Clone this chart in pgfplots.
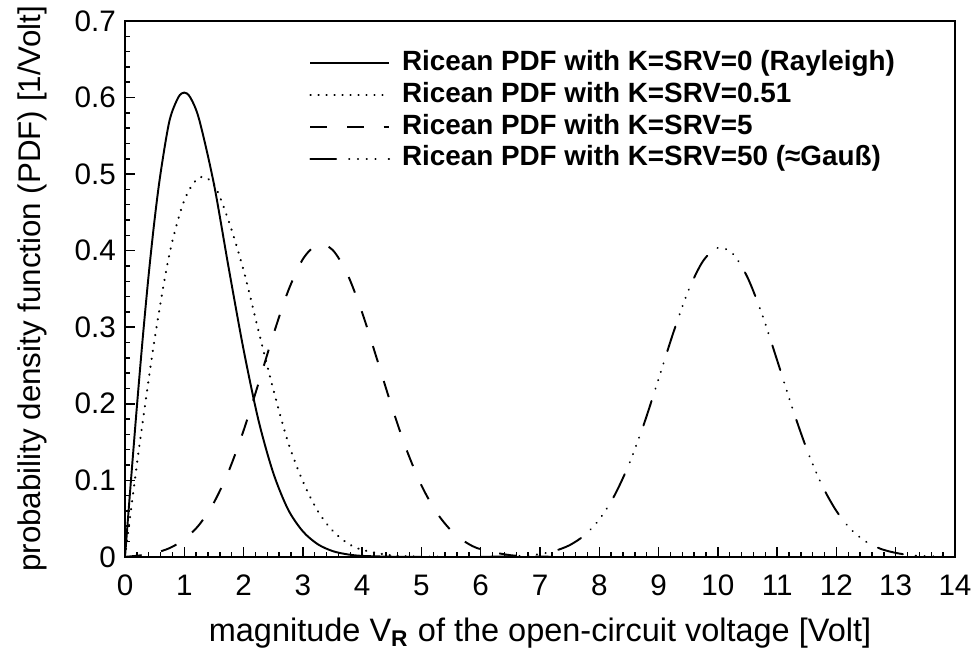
\documentclass[border=0pt]{standalone}
\usepackage{fontspec}
\setmainfont{Liberation Sans}
\usepackage{pgfplots}
\pgfplotsset{compat=1.18}
\begin{document}
\begin{tikzpicture}
\begin{axis}[
  name=ax,
  scale only axis,
  width=322pt, height=207.9pt,
  xmin=0, xmax=14, ymin=0, ymax=0.7,
  xtick={0,1,...,14},
  ytick={0,0.1,0.2,0.3,0.4,0.5,0.6,0.7},
  yticklabels={0,0.1,0.2,0.3,0.4,0.5,0.6,0.7},
  minor x tick num=4, minor y tick num=4,
  tick align=inside,
  xtick pos=bottom, ytick pos=left,
  major tick length=4pt, minor tick length=2pt,
  every tick/.style={black, line width=0.6pt},
  axis line style={line width=0.8pt},
  /pgf/number format/assume math mode=true,
  ticklabel style={font=\fontsize{11.5}{13}\selectfont},
  xticklabel style={yshift=-3.5pt},
  xlabel={magnitude V\textsubscript{\textbf{R}} of the open-circuit voltage [Volt]},
  ylabel={probability density function (PDF) [1/Volt]},
  xlabel style={font=\fontsize{12.6}{15}\selectfont},
  ylabel style={font=\fontsize{12.15}{14}\selectfont},
  ylabel shift=4pt,
  xlabel shift=1.5pt,
  legend style={draw=none, fill=none, at={(0.2215,0.9465)}, anchor=north west,
    inner xsep=0pt, inner ysep=0pt,
    nodes={inner sep=0pt, text height=8pt, text depth=2.3pt},
    /tikz/every odd column/.append style={column sep=4.6pt},
    font=\bfseries\fontsize{10.8}{12.3}\selectfont, row sep=2pt},
  legend cell align=left,
  legend image code/.code={\draw[#1] (0pt,0pt) -- (30.5pt,0pt);},
  every axis plot/.append style={line width=0.75pt, black},
]
\addplot[smooth, solid] coordinates {
(0,0) (0.05,0.0499) (0.1,0.0995) (0.2,0.1960) (0.3,0.2866) (0.4,0.3692) (0.5,0.4412) (0.6,0.5012) (0.75,0.5697) (0.9,0.6003) (1,0.6065) (1.1,0.6003) (1.25,0.5716) (1.5,0.4870) (1.75,0.3769) (2,0.2707) (2.25,0.1789) (2.5,0.1098) (2.75,0.0620) (3,0.0333) (3.25,0.0166) (3.5,0.0076) (3.75,0.0033) (4,0.0013) (4.5,0.0002) (5,0)};
\addlegendentry{Ricean PDF with K=SRV=0 (Rayleigh)}
\addplot[smooth, line cap=round, line width=0.85pt, dash pattern=on 0.1pt off 3pt] coordinates {
(0,0) (0.1,0.0607) (0.25,0.1493) (0.5,0.2846) (0.75,0.3958) (1,0.4657) (1.25,0.4956) (1.5,0.4864) (1.75,0.4384) (2,0.3743) (2.25,0.2959) (2.5,0.2191) (2.75,0.1499) (3,0.0986) (3.25,0.0601) (3.5,0.0343) (3.75,0.0180) (4,0.0092) (4.5,0.0019) (5,0.0003) (5.5,0)};
\addlegendentry{Ricean PDF with K=SRV=0.51}
\addplot[smooth, dash pattern=on 6.5pt off 7.7pt] coordinates {
(0,0) (0.25,0.0019) (0.5,0.0051) (0.75,0.0114) (1,0.0228) (1.25,0.0418) (1.5,0.0710) (1.75,0.1122) (2,0.1650) (2.25,0.2262) (2.5,0.2897) (2.75,0.3470) (3,0.3889) (3.25,0.4081) (3.5,0.4011) (3.75,0.3695) (4,0.3191) (4.25,0.2584) (4.5,0.1962) (4.75,0.1397) (5,0.0934) (5.25,0.0586) (5.5,0.0345) (5.75,0.0190) (6,0.0099) (6.5,0.0022) (7,0.0004) (7.5,0)};
\addlegendentry{Ricean PDF with K=SRV=5}
\addplot[smooth, line cap=round, dash pattern=on 10pt off 5pt on 0.1pt off 3.3pt on 0.1pt off 3.3pt on 0.1pt off 3.3pt on 0.1pt off 5pt] coordinates {
(6,0) (6.5,0.0007) (6.75,0.0018) (7,0.0037) (7.25,0.0078) (7.5,0.0153) (7.75,0.0282) (8,0.0489) (8.25,0.0793) (8.5,0.1208) (8.75,0.1728) (9,0.2323) (9.25,0.2931) (9.5,0.3473) (9.75,0.3864) (10,0.4037) (10.25,0.3962) (10.5,0.3651) (10.75,0.3159) (11,0.2568) (11.25,0.1960) (11.5,0.1406) (11.75,0.0946) (12,0.0599) (12.25,0.0355) (12.5,0.0198) (12.75,0.0104) (13,0.0052) (13.25,0.0023) (13.5,0.0010) (14,0.0001)};
\addlegendentry{Ricean PDF with K=SRV=50 (≈Gauß)}
\end{axis}
\pgfresetboundingbox
\path ([xshift=-48.5pt,yshift=-37.2pt]ax.south west) rectangle ([xshift=7.76pt,yshift=8.15pt]ax.north east);
\end{tikzpicture}
\end{document}
